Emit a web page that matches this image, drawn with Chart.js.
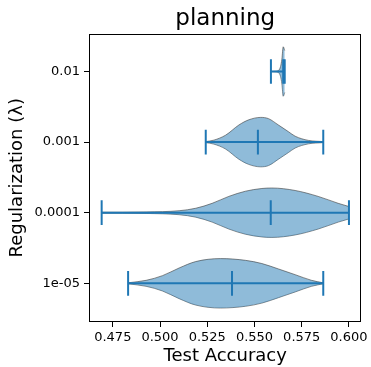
<!DOCTYPE html>
<html lang="en">
<head>
  <meta charset="UTF-8">
  <title>planning</title>
  <script src="https://cdn.jsdelivr.net/npm/chart.js"></script>
  <style>
    html, body { margin: 0; padding: 0; background: #fff; }
  </style>
</head>
<body>
  <canvas id="violinChart" width="371" height="367"></canvas>

  <script>
    // categories, bottom to top
    const lambdaLabels = ['1e-05', '0.0001', '0.001', '0.01'];
    const xTicks = [0.475, 0.500, 0.525, 0.550, 0.575, 0.600];

    // per-category stats (test accuracy)
    const minAcc = [0.4831, 0.4691, 0.5242, 0.5587];
    const maxAcc = [0.5864, 0.6000, 0.5864, 0.5660];
    const medAcc = [0.5381, 0.5586, 0.5518, 0.5652];

    // violin outlines: accuracy and relative width
    const kdeX_1e5 = [0.4831, 0.4926, 0.5013, 0.5101, 0.5189, 0.5320, 0.5452, 0.5539, 0.5627, 0.5715, 0.5802, 0.5864];
    const kdeW_1e5 = [0.02, 0.12, 0.31, 0.62, 0.88, 1.00, 0.93, 0.80, 0.58, 0.35, 0.12, 0.02];
    const kdeX_1e4 = [0.4691, 0.4800, 0.4926, 0.5101, 0.5189, 0.5276, 0.5364, 0.5452, 0.5539, 0.5592, 0.5715, 0.5837, 0.5943, 0.6000];
    const kdeW_1e4 = [0.02, 0.02, 0.03, 0.08, 0.18, 0.38, 0.66, 0.87, 0.98, 1.00, 0.90, 0.66, 0.38, 0.25];
    const kdeX_1e3 = [0.5242, 0.5285, 0.5347, 0.5417, 0.5469, 0.5533, 0.5574, 0.5627, 0.5680, 0.5715, 0.5785, 0.5864];
    const kdeW_1e3 = [0.02, 0.08, 0.28, 0.69, 0.90, 1.00, 0.95, 0.69, 0.42, 0.24, 0.07, 0.02];
    const kdeX_1e2 = [0.5587, 0.5610, 0.5628, 0.5638, 0.5645, 0.5652, 0.5660];
    const kdeW_1e2 = [0.00, 0.01, 0.05, 0.20, 0.50, 1.00, 0.85];

    const violins = [
      { xs: kdeX_1e5, ws: kdeW_1e5 },
      { xs: kdeX_1e4, ws: kdeW_1e4 },
      { xs: kdeX_1e3, ws: kdeW_1e3 },
      { xs: kdeX_1e2, ws: kdeW_1e2 }
    ];

    const halfWidth = 0.35;   // widths=0.7
    const capHalf = 0.175;
    const blue = '#1f77b4';
    const fillColor = 'rgba(31, 119, 180, 0.5)';
    const edgeColor = 'rgba(60, 60, 60, 0.6)';
    const font = 'DejaVu Sans';

    const datasets = [];
    const seg = (pts) => ({
      data: pts,
      showLine: true,
      borderColor: blue,
      borderWidth: 2,
      borderCapStyle: 'butt',
      pointRadius: 0,
      fill: false,
      order: 0
    });

    violins.forEach((v, i) => {
      const pos = i + 1;
      // upper edge, filled down to the lower edge (next dataset)
      datasets.push({
        data: v.xs.map((x, j) => ({ x: x, y: pos + v.ws[j] * halfWidth })),
        showLine: true,
        fill: '+1',
        backgroundColor: fillColor,
        borderColor: edgeColor,
        borderWidth: 1,
        pointRadius: 0,
        cubicInterpolationMode: 'monotone',
        order: 1
      });
      datasets.push({
        data: v.xs.map((x, j) => ({ x: x, y: pos - v.ws[j] * halfWidth })),
        showLine: true,
        fill: false,
        borderColor: edgeColor,
        borderWidth: 1,
        pointRadius: 0,
        cubicInterpolationMode: 'monotone',
        order: 1
      });
    });

    minAcc.forEach((mn, i) => {
      const pos = i + 1;
      datasets.push(seg([{ x: mn, y: pos }, { x: maxAcc[i], y: pos }]));
      datasets.push(seg([{ x: mn, y: pos - capHalf }, { x: mn, y: pos + capHalf }]));
      datasets.push(seg([{ x: maxAcc[i], y: pos - capHalf }, { x: maxAcc[i], y: pos + capHalf }]));
      datasets.push(seg([{ x: medAcc[i], y: pos - capHalf }, { x: medAcc[i], y: pos + capHalf }]));
    });

    const frame = {
      id: 'frame',
      afterDatasetsDraw(chart) {
        const { ctx, chartArea: a } = chart;
        ctx.save();
        ctx.strokeStyle = '#000';
        ctx.lineWidth = 1;
        ctx.strokeRect(Math.round(a.left) + 0.5, Math.round(a.top) + 0.5,
          Math.round(a.right - a.left) - 1, Math.round(a.bottom - a.top) - 1);
        ctx.restore();
      }
    };

    new Chart(document.getElementById('violinChart'), {
      type: 'scatter',
      data: { datasets: datasets },
      plugins: [frame],
      options: {
        responsive: false,
        animation: false,
        layout: { padding: { left: 0, right: 8, top: 0, bottom: 0 } },
        plugins: {
          legend: { display: false },
          tooltip: { enabled: false },
          title: {
            display: true,
            text: 'planning',
            fullSize: false,
            color: '#000',
            font: { family: font, size: 23, weight: 'normal' },
            padding: { top: 5, bottom: 1 }
          }
        },
        scales: {
          x: {
            type: 'linear',
            min: 0.4624,
            max: 0.6066,
            afterBuildTicks: s => { s.ticks = xTicks.map(v => ({ value: v })); },
            afterFit: s => { s.height = 45; },
            ticks: {
              color: '#000',
              font: { family: font, size: 13 },
              padding: 3,
              maxRotation: 0,
              callback: v => v.toFixed(3)
            },
            grid: { drawOnChartArea: false, tickLength: 5, tickColor: '#000' },
            border: { display: false },
            title: {
              display: true,
              text: 'Test Accuracy',
              color: '#000',
              font: { family: font, size: 18 },
              padding: { top: 4, bottom: 0 }
            }
          },
          y: {
            type: 'linear',
            min: 0.452,
            max: 4.537,
            afterBuildTicks: s => { s.ticks = lambdaLabels.map((l, i) => ({ value: i + 1 })); },
            afterFit: s => { s.width = 89; },
            ticks: {
              color: '#000',
              font: { family: font, size: 13 },
              padding: 4,
              callback: v => lambdaLabels[v - 1]
            },
            grid: { drawOnChartArea: false, tickLength: 5, tickColor: '#000' },
            border: { display: false },
            title: {
              display: true,
              text: 'Regularization (λ)',
              color: '#000',
              font: { family: font, size: 18 },
              padding: { top: 7, bottom: 2 }
            }
          }
        }
      }
    });
  </script>
</body>
</html>
